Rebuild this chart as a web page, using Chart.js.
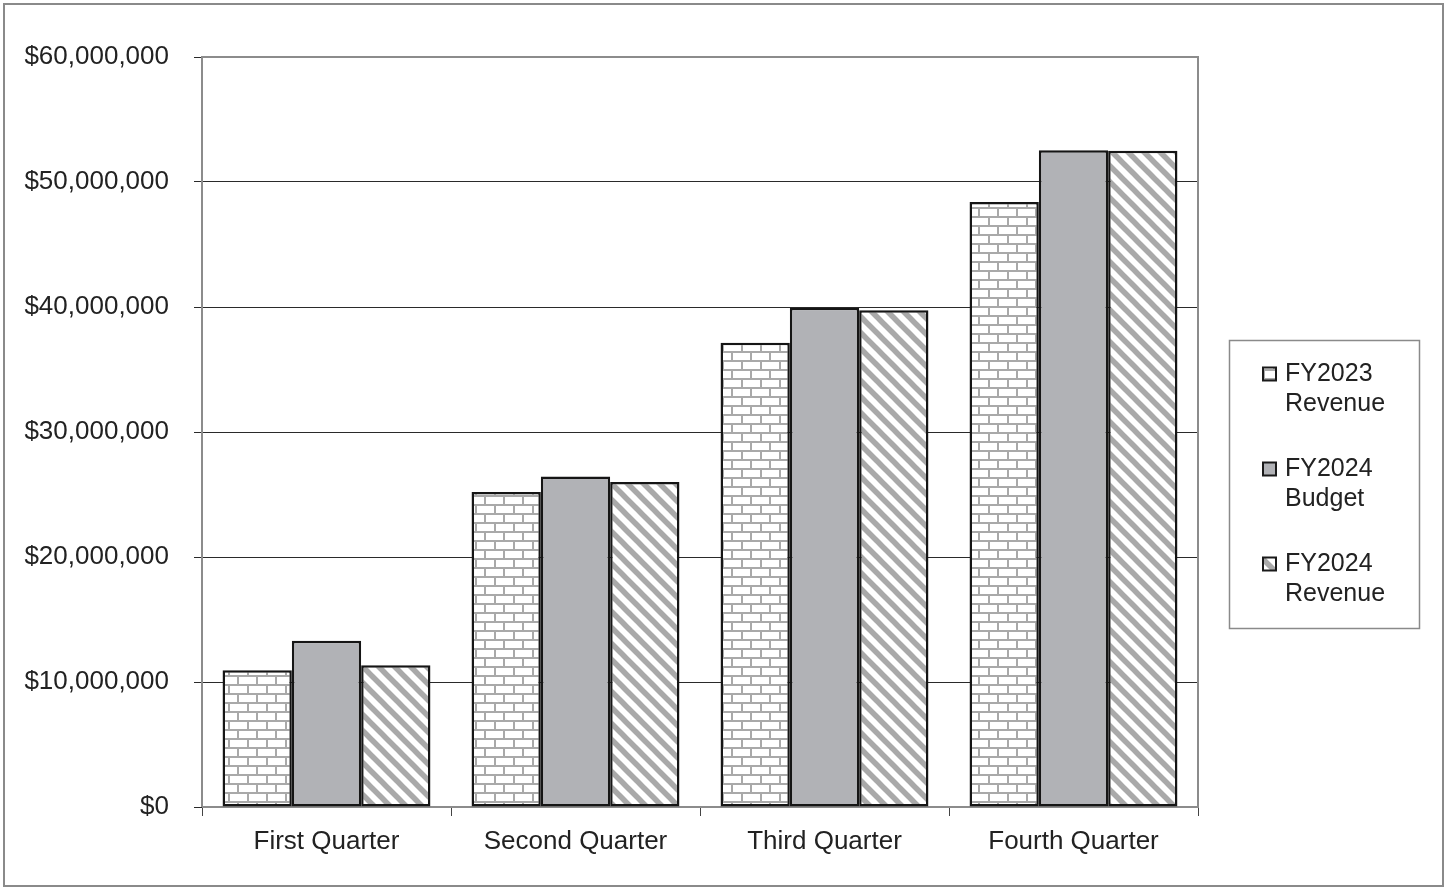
<!DOCTYPE html>
<html>
<head>
<meta charset="utf-8">
<title>Quarterly Revenue</title>
<script src="https://cdn.jsdelivr.net/npm/chart.js@4.4.1/dist/chart.umd.min.js"></script>
<style>
  html, body { margin: 0; padding: 0; background: #fff; }
  #wrap { width: 1447px; height: 888px; }
</style>
</head>
<body>
<div id="wrap"><canvas id="chart" width="1447" height="888"></canvas></div>
<script>
// Quarters on the category axis
const quarters = ['First Quarter', 'Second Quarter', 'Third Quarter', 'Fourth Quarter'];

// Series names (legend wraps them at the space)
const seriesNames = ['FY2023 Revenue', 'FY2024 Budget', 'FY2024 Revenue'];

// Dollar values per quarter
const fy2023Revenue = [10950000, 25200000, 37150000, 48400000];
const fy2024Budget  = [13300000, 26450000, 39950000, 52550000];
const fy2024Revenue = [11350000, 26000000, 39750000, 52500000];

// Value axis
const yMin = 0;
const yMax = 60000000;
const yStep = 10000000;

const FONT = '"Liberation Sans", Arial, sans-serif';
const TEXT = '#222222';
const STROKE_GRAY = '#a9a9a9';

// Brick fill: light grey mortar lines on white
function brickPattern() {
  const c = document.createElement('canvas');
  c.width = 38; c.height = 18;
  const g = c.getContext('2d');
  g.fillStyle = '#ffffff';
  g.fillRect(0, 0, 38, 18);
  g.fillStyle = STROKE_GRAY;
  g.fillRect(0, 0, 38, 2);
  g.fillRect(0, 9, 38, 2);
  g.fillRect(0, 0, 2, 9);
  g.fillRect(19, 0, 2, 9);
  g.fillRect(9, 9, 2, 9);
  g.fillRect(28, 9, 2, 9);
  return g.createPattern(c, 'repeat');
}

// Diagonal fill: grey stripes running down to the right
function stripePattern() {
  const s = 16;
  const c = document.createElement('canvas');
  c.width = s; c.height = s;
  const g = c.getContext('2d');
  g.fillStyle = '#ffffff';
  g.fillRect(0, 0, s, s);
  g.strokeStyle = STROKE_GRAY;
  g.lineWidth = 5.5;
  for (const o of [-s, 0, s]) {
    g.beginPath();
    g.moveTo(o - 4, -4);
    g.lineTo(o + s + 4, s + 4);
    g.stroke();
  }
  return g.createPattern(c, 'repeat');
}

const fills = [brickPattern(), '#b1b2b6', stripePattern()];
const seriesData = [fy2023Revenue, fy2024Budget, fy2024Revenue];

// Page border, plot frame and the boxed legend on the right
const decorations = {
  id: 'decorations',
  beforeDraw(chart) {
    const ctx = chart.ctx;
    ctx.save();
    ctx.fillStyle = '#ffffff';
    ctx.fillRect(0, 0, chart.width, chart.height);
    ctx.strokeStyle = '#8a8a8a';
    ctx.lineWidth = 2;
    ctx.strokeRect(4, 4, 1439, 882);
    ctx.restore();
  },
  beforeDatasetsDraw(chart) {
    const { ctx, chartArea: a } = chart;
    ctx.save();
    ctx.strokeStyle = '#8c8c8c';
    ctx.lineWidth = 2;
    ctx.beginPath();
    ctx.moveTo(a.left, a.bottom);
    ctx.lineTo(a.left, a.top);
    ctx.lineTo(a.right, a.top);
    ctx.lineTo(a.right, a.bottom);
    ctx.lineTo(a.left, a.bottom);
    ctx.stroke();
    ctx.restore();
  },
  afterDraw(chart) {
    const ctx = chart.ctx;
    const box = { x: 1229, y: 340, w: 190, h: 288 };
    ctx.save();
    ctx.fillStyle = '#ffffff';
    ctx.fillRect(box.x, box.y, box.w, box.h);
    ctx.strokeStyle = '#8a8a8a';
    ctx.lineWidth = 1.5;
    ctx.strokeRect(box.x + 0.5, box.y + 0.5, box.w, box.h);

    ctx.font = '25px ' + FONT;
    ctx.textBaseline = 'middle';
    ctx.textAlign = 'left';
    chart.data.datasets.forEach((ds, i) => {
      const firstY = box.y + 34 + i * 95;
      // marker
      const mx = 1263, ms = 13;
      ctx.fillStyle = ds.backgroundColor;
      ctx.fillRect(mx, firstY - ms / 2, ms, ms);
      ctx.strokeStyle = '#1a1a1a';
      ctx.lineWidth = 2;
      ctx.strokeRect(mx, firstY - ms / 2, ms, ms);
      // wrapped label
      ctx.fillStyle = TEXT;
      ds.label.split(' ').forEach((line, j) => {
        ctx.fillText(line, 1285, firstY + j * 30);
      });
    });
    ctx.restore();
  }
};

new Chart(document.getElementById('chart'), {
  type: 'bar',
  data: {
    labels: quarters,
    datasets: seriesNames.map((name, i) => ({
      label: name,
      data: seriesData[i],
      backgroundColor: fills[i],
      borderColor: '#151515',
      borderWidth: 2.5,
      borderSkipped: false,
      categoryPercentage: 0.835,
      barPercentage: 1.0
    }))
  },
  options: {
    responsive: false,
    animation: false,
    layout: { padding: { left: 0, top: 57, right: 249, bottom: 0 } },
    plugins: {
      legend: { display: false },
      tooltip: { enabled: false },
      title: { display: false }
    },
    scales: {
      x: {
        grid: {
          offset: true,
          drawOnChartArea: false,
          drawTicks: true,
          tickLength: 9,
          color: '#444444',
          lineWidth: 1
        },
        border: { display: false },
        ticks: {
          color: TEXT,
          font: { family: FONT, size: 26 },
          padding: 10,
          maxRotation: 0
        },
        afterFit(scale) { scale.height = 81; }
      },
      y: {
        min: yMin,
        max: yMax,
        grid: {
          color: '#2a2a2a',
          lineWidth: 1,
          drawTicks: true,
          tickLength: 8
        },
        border: { display: false },
        ticks: {
          stepSize: yStep,
          color: TEXT,
          font: { family: FONT, size: 26 },
          padding: 25,
          callback: (v) => '$' + Number(v).toLocaleString('en-US')
        },
        afterFit(scale) { scale.width = 202; }
      }
    }
  },
  plugins: [decorations]
});
</script>
</body>
</html>
